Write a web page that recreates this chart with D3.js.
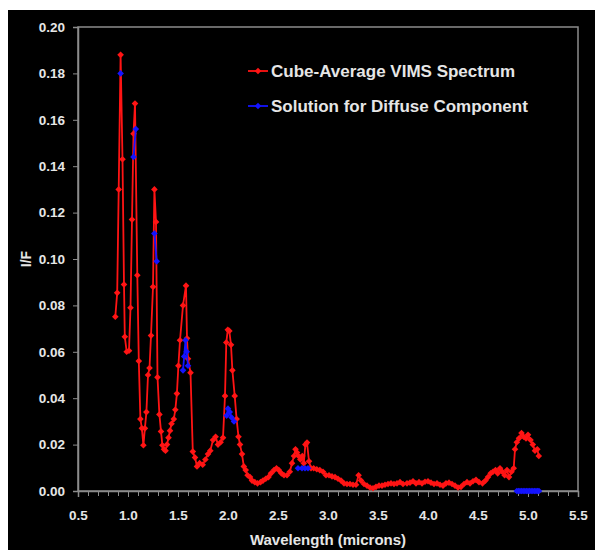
<!DOCTYPE html>
<html><head><meta charset="utf-8">
<script src="https://cdn.jsdelivr.net/npm/d3@7/dist/d3.min.js"></script>
<style>html,body{margin:0;padding:0;background:#fff;}svg{display:block;}</style>
</head><body>
<script>
const xTicks = [0.5,1.0,1.5,2.0,2.5,3.0,3.5,4.0,4.5,5.0,5.5];
const yTicks = [0.00,0.02,0.04,0.06,0.08,0.10,0.12,0.14,0.16,0.18,0.20];
const seriesNames = ["Cube-Average VIMS Spectrum","Solution for Diffuse Component"];

// Cube-average VIMS spectrum (wavelength µm, I/F)
const vimsWl = [0.873,0.892,0.907,0.926,0.945,0.960,0.968,0.987,1.010,1.025,1.040,1.055,1.070,1.093,1.108,1.124,1.139,1.154,1.169,1.184,1.200,1.215,1.230,1.250,1.264,1.280,1.295,1.314,1.330,1.344,1.360,1.375,1.390,1.405,1.420,1.435,1.458,1.473,1.489,1.504,1.520,1.550,1.580,1.590,1.600,1.625,1.648,1.670,1.690,1.716,1.747,1.774,1.800,1.823,1.850,1.876,1.900,1.926,1.950,1.970,1.983,1.998,2.013,2.030,2.044,2.067,2.086,2.105,2.120,2.140,2.158,2.177,2.196,2.220,2.240,2.268,2.295,2.325,2.350,2.378,2.405,2.430,2.460,2.485,2.508,2.534,2.560,2.590,2.618,2.640,2.660,2.675,2.690,2.705,2.724,2.743,2.758,2.774,2.790,2.810,2.830,2.857,2.888,2.918,2.950,2.980,3.010,3.040,3.070,3.100,3.130,3.160,3.190,3.220,3.250,3.280,3.306,3.330,3.360,3.390,3.420,3.450,3.480,3.510,3.540,3.570,3.600,3.630,3.660,3.690,3.720,3.750,3.790,3.820,3.850,3.880,3.910,3.940,3.970,4.000,4.030,4.060,4.090,4.120,4.150,4.180,4.210,4.240,4.270,4.300,4.330,4.360,4.390,4.420,4.450,4.480,4.510,4.545,4.575,4.600,4.627,4.650,4.675,4.697,4.720,4.743,4.766,4.790,4.810,4.835,4.857,4.870,4.888,4.910,4.935,4.956,4.980,5.000,5.025,5.048,5.070,5.093,5.108];
const vimsIF = [0.0751,0.0854,0.130,0.188,0.143,0.089,0.0665,0.060,0.0605,0.079,0.117,0.154,0.167,0.093,0.056,0.031,0.027,0.0197,0.027,0.034,0.050,0.053,0.067,0.088,0.130,0.116,0.049,0.033,0.0257,0.0197,0.018,0.0174,0.020,0.023,0.026,0.029,0.031,0.035,0.042,0.054,0.065,0.080,0.0885,0.0658,0.057,0.051,0.017,0.0144,0.0106,0.012,0.0113,0.0136,0.0159,0.0174,0.022,0.0234,0.020,0.021,0.023,0.041,0.064,0.0695,0.069,0.063,0.052,0.041,0.031,0.0234,0.020,0.0159,0.0106,0.009,0.0068,0.006,0.0045,0.0038,0.0033,0.0038,0.0045,0.0053,0.006,0.0076,0.009,0.0098,0.009,0.0076,0.0068,0.0068,0.0083,0.012,0.0151,0.018,0.0166,0.0151,0.0136,0.0151,0.012,0.020,0.0209,0.0128,0.0098,0.0098,0.0094,0.009,0.0083,0.0068,0.0068,0.0063,0.006,0.0053,0.0045,0.0033,0.003,0.003,0.0027,0.0027,0.0068,0.0045,0.003,0.0023,0.0015,0.0012,0.0018,0.0023,0.0023,0.0027,0.003,0.0033,0.003,0.0033,0.0038,0.003,0.0033,0.0036,0.0042,0.0033,0.0038,0.0033,0.004,0.0042,0.0036,0.003,0.0033,0.0027,0.0023,0.0033,0.0036,0.003,0.0023,0.0015,0.0018,0.003,0.0038,0.0033,0.0042,0.0048,0.0038,0.0033,0.0045,0.006,0.0076,0.0083,0.009,0.0076,0.0098,0.0083,0.0068,0.009,0.006,0.0083,0.0098,0.018,0.021,0.0227,0.025,0.0234,0.0227,0.0242,0.022,0.020,0.0174,0.018,0.0151];

// Diffuse component solution (null = gap between windows)
const diffWl = [0.926,null,1.055,1.078,null,1.264,1.287,null,1.550,1.562,1.575,1.587,1.600,null,1.987,2.000,2.017,2.036,2.060,null,2.700,2.740,2.770,2.800,null,4.888,4.904,4.920,4.936,4.952,4.968,4.984,5.000,5.016,5.032,5.048,5.064,5.080,5.096,5.110];
const diffIF = [0.180,null,0.144,0.156,null,0.111,0.099,null,0.052,0.058,0.065,0.060,0.054,null,0.0325,0.0355,0.034,0.0317,0.030,null,0.0098,0.0098,0.0098,0.0098,null,0,0,0,0,0,0,0,0,0,0,0,0,0,0,0];

const W = 595, H = 550;
const svg = d3.select("body").append("svg").attr("width", W).attr("height", H);
svg.append("rect").attr("x",8).attr("y",10).attr("width",W-8).attr("height",H-10).attr("fill","#000");

const x = d3.scaleLinear().domain([0.5,5.5]).range([78,578]);
const y = d3.scaleLinear().domain([0,0.2]).range([491,27]);
const font = "Arial, 'Liberation Sans', sans-serif";
const axisCol = "#8c8c8c", textCol = "#e6e6e6";

// frame
svg.append("rect").attr("x",x(0.5)).attr("y",y(0.2)).attr("width",x(5.5)-x(0.5)).attr("height",y(0)-y(0.2))
  .attr("fill","none").attr("stroke",axisCol).attr("stroke-width",1.5);

// x axis
const xMinor = d3.range(5,56).map(d=>d/10);
const gx = svg.append("g").attr("transform",`translate(0,${y(0)})`)
  .call(d3.axisBottom(x).tickValues(xMinor).tickSize(5).tickFormat(""));
gx.select(".domain").remove();
gx.selectAll("line").attr("stroke",axisCol);
const gx2 = svg.append("g").attr("transform",`translate(0,${y(0)})`)
  .call(d3.axisBottom(x).tickValues(xTicks).tickSize(6).tickPadding(13).tickFormat(d3.format(".1f")));
gx2.select(".domain").attr("stroke",axisCol).attr("stroke-width",1.5);
gx2.selectAll("line").attr("stroke",axisCol);
gx2.selectAll("text").attr("fill",textCol).attr("font-family",font).attr("font-weight","bold").attr("font-size",13.5);

// y axis
const gy = svg.append("g").attr("transform",`translate(${x(0.5)},0)`)
  .call(d3.axisLeft(y).tickValues(yTicks).tickSize(5).tickPadding(8).tickFormat(d3.format(".2f")));
gy.select(".domain").attr("stroke",axisCol).attr("stroke-width",1.5);
gy.selectAll("line").attr("stroke",axisCol);
gy.selectAll("text").attr("fill",textCol).attr("font-family",font).attr("font-weight","bold").attr("font-size",13.5);

// axis titles
svg.append("text").attr("x",(x(0.5)+x(5.5))/2).attr("y",545).attr("text-anchor","middle")
  .attr("fill",textCol).attr("font-family",font).attr("font-weight","bold").attr("font-size",15)
  .text("Wavelength (microns)");
svg.append("text").attr("transform",`translate(31,${y(0.1)}) rotate(-90)`).attr("text-anchor","middle")
  .attr("fill",textCol).attr("font-family",font).attr("font-weight","bold").attr("font-size",14)
  .text("I/F");

const red = "#ff1414", blue = "#1414ff";
const diamond = d3.symbol().type(d3.symbolSquare).size(22);

function drawSeries(wl, vals, color) {
  const pts = wl.map((w,i)=>({w, v: vals[i]}));
  const line = d3.line().defined(d=>d.w!=null && d.v!=null).x(d=>x(d.w)).y(d=>y(d.v));
  svg.append("path").attr("d", line(pts)).attr("fill","none").attr("stroke",color).attr("stroke-width",1.8);
  svg.append("g").selectAll("path").data(pts.filter(d=>d.w!=null && d.v!=null)).join("path")
    .attr("d", diamond).attr("transform", d=>`translate(${x(d.w)},${y(d.v)}) rotate(45)`).attr("fill",color);
}
drawSeries(vimsWl, vimsIF, red);
drawSeries(diffWl, diffIF, blue);

// legend
const legY = [71,106], legCol = [red, blue];
seriesNames.forEach((name,i)=>{
  const g = svg.append("g");
  g.append("line").attr("x1",248).attr("x2",268).attr("y1",legY[i]).attr("y2",legY[i]).attr("stroke",legCol[i]).attr("stroke-width",1.8);
  g.append("path").attr("d",diamond).attr("transform",`translate(258,${legY[i]}) rotate(45)`).attr("fill",legCol[i]);
  g.append("text").attr("x",271).attr("y",legY[i]+6).attr("fill",textCol).attr("font-family",font)
    .attr("font-weight","bold").attr("font-size",17).text(name);
});
</script>
</body></html>
